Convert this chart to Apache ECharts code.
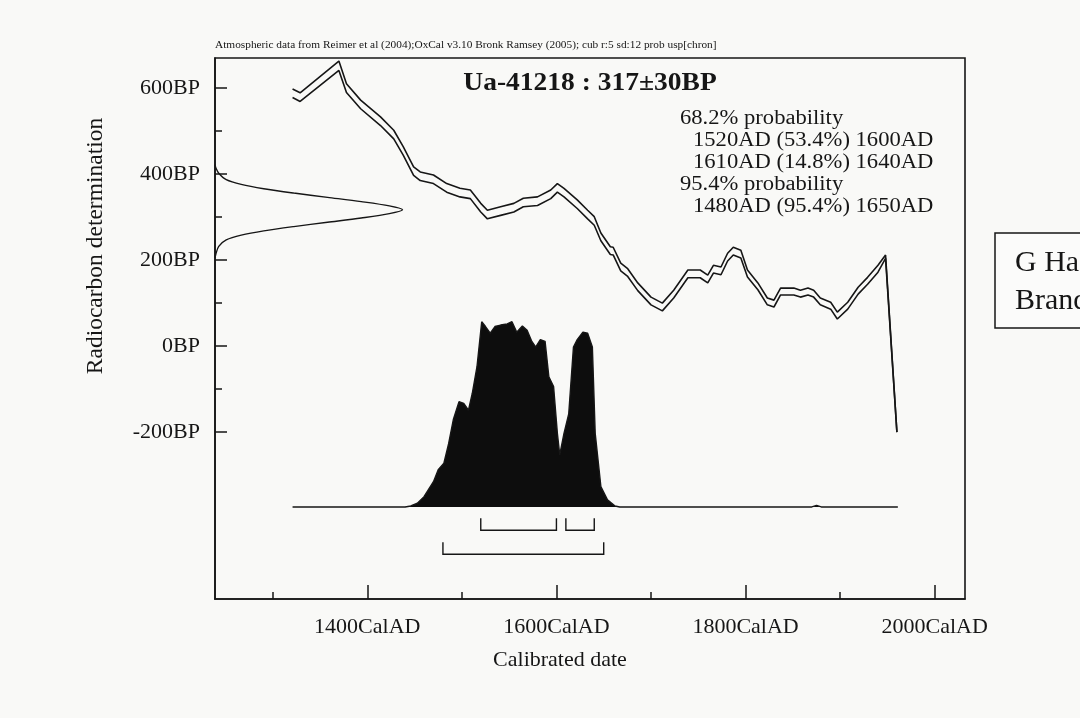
<!DOCTYPE html>
<html><head><meta charset="utf-8">
<script src="https://cdn.jsdelivr.net/npm/echarts@6/dist/echarts.min.js"></script>
<style>html,body{margin:0;padding:0;background:#f9f9f7}#c{width:1080px;height:718px}</style>
</head><body><div id="c"></div>
<script>
// Calibration curve (IntCal04 as drawn): year AD, centre BP, 1-sigma BP
const curveYears = [1321,1329,1370,1378,1393,1414,1428,1438,1449,1456,1470,1484,1498,1509,1520,1527,1541,1555,1565,1580,1594,1601,1608,1622,1633,1640,1647,1657,1660,1668,1675,1686,1700,1712,1724,1739,1752,1760,1766,1774,1781,1787,1795,1802,1813,1823,1830,1837,1851,1858,1866,1872,1879,1890,1897,1908,1919,1929,1940,1948,1960];
const curveBP    = [588,579,652,600,562,523,492,454,407,395,388,368,357,353,322,306,314,322,334,337,353,368,357,330,306,291,254,222,221,184,172,138,105,91,121,168,168,156,179,175,207,221,214,169,139,104,99,127,127,122,127,122,104,94,71,94,129,152,180,208,-200];
const curveSigma = [10,10,11,10,10,10,10,10,10,10,10,10,10,10,10,10,10,10,10,10,10,10,10,10,10,10,9,9,9,9,9,9,9,9,9,9,9,9,9,9,9,9,9,8,8,8,8,8,8,8,8,8,8,8,8,8,8,8,8,4,0];

// Radiocarbon measurement 317±30BP (relative probability vs BP)
const measBP   = [205,215,232,247,258,268,278,288,298,308,317,326,336,346,356,366,376,387,402,414,422];
const measProb = [0,0.005,0.02,0.06,0.14,0.26,0.42,0.6,0.78,0.93,1.0,0.93,0.78,0.6,0.42,0.26,0.14,0.06,0.02,0.005,0];

// Calibrated date distribution (relative probability)
const calYears = [1321,1440,1446,1453,1460,1470,1475,1481,1486,1491,1497,1502,1507,1511,1516,1521,1525,1530,1535,1541,1548,1553,1558,1564,1569,1574,1578,1583,1588,1592,1597,1601,1603.5,1608,1613,1618,1622,1628,1633,1638,1641,1647,1654,1662,1667,1870,1875,1880,1961];
const calProb  = [0,0,0.005,0.02,0.055,0.136,0.2,0.235,0.34,0.47,0.566,0.557,0.52,0.61,0.754,0.996,0.97,0.934,0.97,0.978,0.984,0.996,0.94,0.973,0.95,0.89,0.86,0.9,0.89,0.7,0.647,0.396,0.28,0.396,0.5,0.86,0.9,0.94,0.934,0.86,0.396,0.109,0.038,0.005,0,0,0.008,0,0];

// Probability ranges
const range68 = [[1520,1600],[1610,1640]];
const range95 = [[1480,1650]];

// Ticks
const xMajorTicks = [1400,1600,1800,2000];
const xMinorTicks = [1300,1500,1700,1900];
const yMajorTicks = [-200,0,200,400,600];
const yMinorTicks = [-100,100,300,500];

// Texts
const headerText = 'Atmospheric data from Reimer et al (2004);OxCal v3.10 Bronk Ramsey (2005); cub r:5 sd:12 prob usp[chron]';
const titleText = 'Ua-41218 : 317\u00b130BP';
const probLines = ['68.2% probability','1520AD (53.4%) 1600AD','1610AD (14.8%) 1640AD','95.4% probability','1480AD (95.4%) 1650AD'];
const probIndent = [0,1,1,0,1];
const xName = 'Calibrated date';
const yName = 'Radiocarbon determination';
const noteLines = ['G Ha','Brand'];

const FONT = '"Liberation Serif","Times New Roman",serif';
const INK = '#161616';

const upper = curveYears.map((y,i)=>[y, curveBP[i]+curveSigma[i]]);
const lower = curveYears.map((y,i)=>[y, curveBP[i]-curveSigma[i]]);
const meas = measBP.map((b,i)=>[measProb[i], b]);
const cal = calYears.map((y,i)=>[y, calProb[i]]);
const ranges = range68.map(r=>[r[0],r[1],0]).concat(range95.map(r=>[r[0],r[1],1]));

const chart = echarts.init(document.getElementById('c'), null, {renderer:'canvas'});

const XMIN=1239, XMAX=2032, YMIN=-588, YMAX=670;

function txt(x, y, text, font, align, extra){
  return Object.assign({type:'text', x:x, y:y,
    style:{text:text, font:font, fill:INK, align:align, verticalAlign:'middle', textAlign:align, textVerticalAlign:'middle'}}, extra||{});
}

const graphic = [
  txt(215, 45, headerText, '11px '+FONT, 'left', {scaleX:1.03}),
  txt(590, 84, titleText, 'bold 25px '+FONT, 'center', {scaleX:1.1}),
  txt(560, 660, xName, '22px '+FONT, 'center'),
  txt(96, 246, yName, '23.5px '+FONT, 'center', {rotation:Math.PI/2}),
  {type:'rect', shape:{x:995, y:233, width:140, height:95}, style:{fill:'#fbfbfa', stroke:INK, lineWidth:1.5}},
];
probLines.forEach((t,i)=>{
  graphic.push(txt(probIndent[i] ? 693 : 680, 119 + i*22, t, '20px '+FONT, 'left', {scaleX:1.13}));
});
noteLines.forEach((t,i)=>{
  graphic.push(txt(1015, 263 + i*38, t, '30px '+FONT, 'left'));
});

const option = {
  animation:false,
  backgroundColor:'#f9f9f7',
  grid:{left:215, top:58, width:750, height:541, show:true, borderColor:INK, borderWidth:1.6, backgroundColor:'transparent', containLabel:false},
  xAxis:[
    {type:'value', min:XMIN, max:XMAX, position:'bottom',
     axisLine:{show:true, onZero:false, lineStyle:{color:INK, width:1.6}},
     axisTick:{show:true, inside:true, length:14, customValues:xMajorTicks, lineStyle:{color:INK, width:1.5}},
     axisLabel:{show:true, customValues:xMajorTicks, formatter:v=>v+'CalAD', fontSize:22, fontFamily:FONT, color:INK, margin:17},
     splitLine:{show:false}},
    {type:'value', min:XMIN, max:XMAX, position:'bottom',
     axisLine:{show:false, onZero:false},
     axisTick:{show:true, inside:true, length:7, customValues:xMinorTicks, lineStyle:{color:INK, width:1.5}},
     axisLabel:{show:false}, splitLine:{show:false}},
    {type:'value', min:0, max:4, show:false, position:'top'}
  ],
  yAxis:[
    {type:'value', min:YMIN, max:YMAX, position:'left',
     axisLine:{show:true, onZero:false, lineStyle:{color:INK, width:1.6}},
     axisTick:{show:true, inside:true, length:12, customValues:yMajorTicks, lineStyle:{color:INK, width:1.5}},
     axisLabel:{show:true, customValues:yMajorTicks, formatter:v=>v+'BP', fontSize:22, fontFamily:FONT, color:INK, margin:15},
     splitLine:{show:false}},
    {type:'value', min:YMIN, max:YMAX, position:'left',
     axisLine:{show:false, onZero:false},
     axisTick:{show:true, inside:true, length:7, customValues:yMinorTicks, lineStyle:{color:INK, width:1.5}},
     axisLabel:{show:false}, splitLine:{show:false}},
    {type:'value', min:-0.495, max:2.414, show:false, position:'right'}
  ],
  series:[
    {type:'line', xAxisIndex:0, yAxisIndex:0, data:upper, symbol:'none', lineStyle:{color:INK, width:1.6}, z:3},
    {type:'line', xAxisIndex:0, yAxisIndex:0, data:lower, symbol:'none', lineStyle:{color:INK, width:1.6}, z:3},
    {type:'line', xAxisIndex:2, yAxisIndex:0, data:meas, symbol:'none', smooth:0.3, lineStyle:{color:INK, width:1.4}, z:3},
    {type:'line', xAxisIndex:0, yAxisIndex:2, data:cal, symbol:'none', lineStyle:{color:INK, width:1.4}, areaStyle:{color:'#0d0d0d', opacity:1}, z:2},
    {type:'custom', xAxisIndex:0, yAxisIndex:0, data:ranges, encode:{x:[0,1]},
     renderItem:function(params, api){
       const levelBP = [-428,-484][api.value(2)];
       const p0 = api.coord([api.value(0), levelBP]);
       const p1 = api.coord([api.value(1), levelBP]);
       const h = 12;
       return {type:'polyline', shape:{points:[[p0[0],p0[1]-h],[p0[0],p0[1]],[p1[0],p1[1]],[p1[0],p1[1]-h]]},
               style:{stroke:INK, lineWidth:1.4, fill:null}};
     }, z:3}
  ],
  graphic: graphic
};
chart.setOption(option);
</script></body></html>
